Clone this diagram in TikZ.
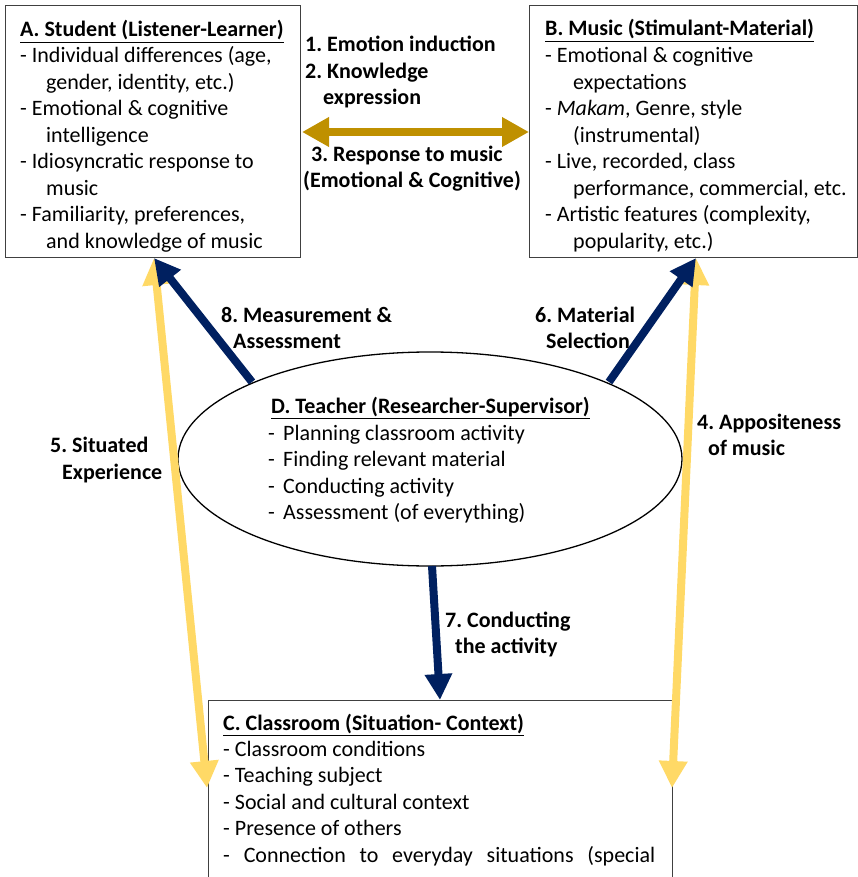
\documentclass[tikz,border=0pt]{standalone}
\usepackage{fontspec}
\setmainfont{Carlito}
\usetikzlibrary{arrows.meta,shapes.geometric}
\definecolor{goldc}{HTML}{BF9000}
\definecolor{navyc}{HTML}{002060}
\definecolor{yelc}{HTML}{FFD966}
\definecolor{boxc}{HTML}{404040}
\begin{document}
\frenchspacing
\begin{tikzpicture}[x=1pt,y=-1pt,
  txt/.style={inner sep=0pt, anchor=base west, font=\fontsize{22}{26.5}\selectfont},
  lab/.style={txt, font=\fontsize{22}{26.5}\selectfont\bfseries},
  boxst/.style={draw=boxc, line width=1.2pt, fill=none, inner sep=0pt, anchor=north west},
  goldarr/.style={draw=goldc, line width=8pt, {Triangle[length=27pt,width=28pt]}-{Triangle[length=27pt,width=28pt]}},
  yelarr/.style={draw=yelc, line width=8pt, {Triangle[length=27pt,width=27pt]}-{Triangle[length=27pt,width=27pt]}},
  navyarr/.style={draw=navyc, line width=8pt, -{Triangle[length=26pt,width=26pt]}}
]
\useasboundingbox (0,0) rectangle (858,877);
\clip (0,0) rectangle (858,877);

% boxes
\node[boxst, minimum width=295pt, minimum height=252pt] (A) at (5,5) {};
\node[boxst, minimum width=328pt, minimum height=252pt] (B) at (529,5) {};
\node[boxst, minimum width=464pt, minimum height=220pt] (C) at (208,700) {};
\node[ellipse, draw=black, line width=1.3pt, minimum width=504pt, minimum height=214pt, inner sep=0pt] (D) at (430,459) {};

% connector end points
\coordinate (gL) at (302,132);
\coordinate (gR) at (529,132);
\coordinate (aT) at (154,258);
\coordinate (bT) at (696,258);
\coordinate (yL) at (207,788);
\coordinate (yR) at (672,788);
\coordinate (n8) at (252,382);
\coordinate (n6) at (609,382);
\coordinate (n7) at (432,566);
\coordinate (cT) at (440,700);

% arrows
\draw[goldarr] (gL) -- (gR);
\draw[yelarr] (aT) -- (yL);
\draw[yelarr] (bT) -- (yR);
\draw[navyarr] (n8) -- (aT);
\draw[navyarr] (n6) -- (bT);
\draw[navyarr] (n7) -- (cT);

% Box A text
\node[lab] (a0) at (20,37) {\underline{A. Student (Listener-Learner)}};
\node[txt] (a1) at (20,63) {- Individual differences (age,};
\node[txt] (a2) at (46,89.5) {gender, identity, etc.)};
\node[txt] (a3) at (20,116) {- Emotional \& cognitive};
\node[txt] (a4) at (46,142.5) {intelligence};
\node[txt] (a5) at (20,169) {- Idiosyncratic response to};
\node[txt] (a6) at (46,195.5) {music};
\node[txt] (a7) at (20,222) {- Familiarity, preferences,};
\node[txt] (a8) at (46,248.5) {and knowledge of music};

% Box B text
\node[lab] (b0) at (545,36) {\underline{B. Music (Stimulant-Material)}};
\node[txt] (b1) at (545,63) {- Emotional \& cognitive};
\node[txt] (b2) at (573,89.5) {expectations};
\node[txt] (b3) at (545,116) {- \textit{Makam}, Genre, style};
\node[txt] (b4) at (573,142.5) {(instrumental)};
\node[txt] (b5) at (545,169) {- Live, recorded, class};
\node[txt] (b6) at (573,195.5) {performance, commercial, etc.};
\node[txt] (b7) at (545,222) {- Artistic features (complexity,};
\node[txt] (b8) at (573,248.5) {popularity, etc.)};

% Ellipse text
\node[lab] (d0) at (271,413) {\underline{D. Teacher (Researcher-Supervisor)}};
\node[txt] (d1) at (268,440) {\makebox[15pt][l]{-}Planning classroom activity};
\node[txt] (d2) at (268,466.5) {\makebox[15pt][l]{-}Finding relevant material};
\node[txt] (d3) at (268,493) {\makebox[15pt][l]{-}Conducting activity};
\node[txt] (d4) at (268,519.5) {\makebox[15pt][l]{-}Assessment (of everything)};

% Box C text
\node[lab] (c0) at (223,730) {\underline{C. Classroom (Situation- Context)}};
\node[txt] (c1) at (223,756) {- Classroom conditions};
\node[txt] (c2) at (223,782.5) {- Teaching subject};
\node[txt] (c3) at (223,809) {- Social and cultural context};
\node[txt] (c4) at (223,835.5) {- Presence of others};
\node[txt] (c5) at (223,862) {\makebox[432pt][s]{- Connection to everyday situations (special}};

% connector labels
\node[lab] (l1) at (305,52) {1. Emotion induction};
\node[lab] (l2) at (305,79) {2. Knowledge};
\node[lab] (l2b) at (323,105) {expression};
\node[lab] (l3) at (311,162) {3. Response to music};
\node[lab] (l3b) at (303,188) {(Emotional \& Cognitive)};
\node[lab] (l8) at (221,322) {8. Measurement \&};
\node[lab] (l8b) at (233,348) {Assessment};
\node[lab] (l6) at (535,322) {6. Material};
\node[lab] (l6b) at (546,348) {Selection};
\node[lab] (l5) at (50,452) {5. Situated};
\node[lab] (l5b) at (62,479) {Experience};
\node[lab] (l4) at (697,429) {4. Appositeness};
\node[lab] (l4b) at (708,455) {of music};
\node[lab] (l7) at (445,627) {7. Conducting};
\node[lab] (l7b) at (455,653) {the activity};
\end{tikzpicture}
\end{document}
